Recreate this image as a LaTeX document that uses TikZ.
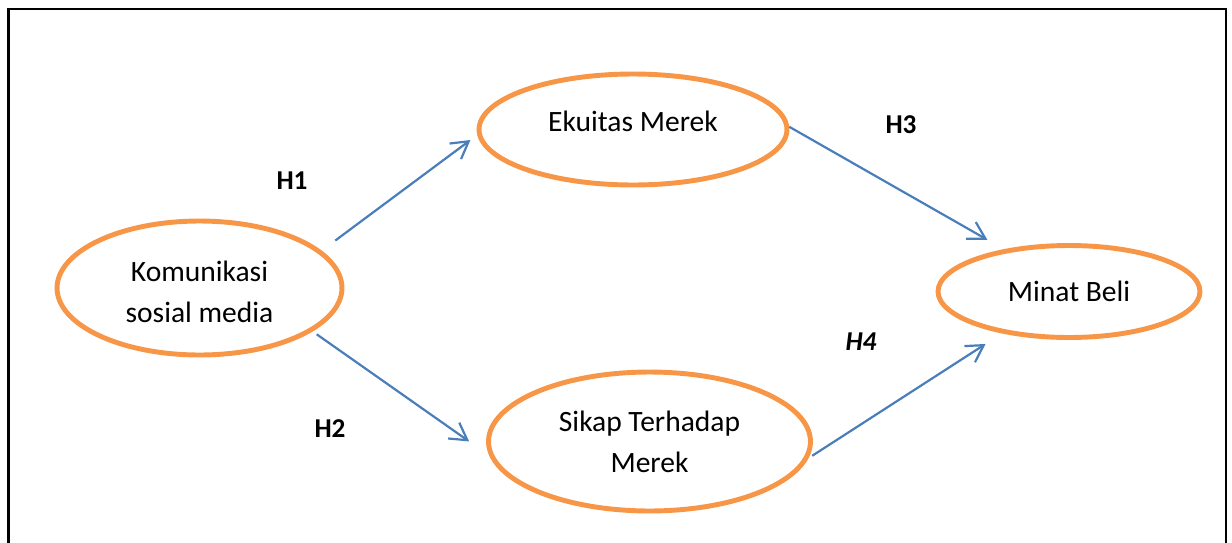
\documentclass[tikz,border=0pt]{standalone}
\usepackage{fontspec}
\setmainfont{Carlito}
\usetikzlibrary{arrows.meta,shapes.geometric}
\definecolor{varorange}{HTML}{F79646}
\definecolor{pathblue}{HTML}{4A7EBB}

\begin{document}
\begin{tikzpicture}[x=0.02cm,y=-0.02cm,>={Straight Barb[length=9.5pt,width=11pt]},
  var node/.style={ellipse,draw=varorange,line width=2.8pt,inner sep=0pt,align=center,
    font=\fontsize{16.8}{23.2}\selectfont},
  hyp/.style={->,draw=pathblue,line width=1.25pt},
  hyp label/.style={font=\fontsize{15.5}{18}\selectfont\bfseries}]

  \useasboundingbox (0,0) rectangle (1232,542);
  \clip (0,0) rectangle (1232,542);
  \draw[line width=1.2pt] (8.5,9) rectangle (1226,600);

  \node[var node,minimum width=5.7cm,minimum height=2.68cm,text height=39.5pt] (kom) at (199.5,288) {Komunikasi\\sosial media};
  \node[var node,minimum width=6.16cm,minimum height=2.22cm,text depth=9pt] (ekuitas) at (633,129.5) {Ekuitas Merek};
  \node[var node,minimum width=6.44cm,minimum height=2.78cm] (sikap) at (649.5,441.5) {Sikap Terhadap\\Merek};
  \node[var node,minimum width=5.24cm,minimum height=1.84cm] (minat) at (1069,291.5) {Minat Beli};

  \draw[hyp,shorten <=0.34cm,shorten >=0.17cm] (kom.17) -- (ekuitas.182.4);
  \draw[hyp,shorten <=0.1cm,shorten >=0.49cm] (kom.339.9) -- (sikap.185.3);
  \draw[hyp,shorten >=0.38cm] (ekuitas.1) -- (minat.147.6);
  \draw[hyp,shorten <=0.09cm,shorten >=0.39cm] (sikap.354.2) -- (minat.212.3);

  \node[hyp label] (h1) at (292,181) {H1};
  \node[hyp label] (h2) at (330,429) {H2};
  \node[hyp label] (h3) at (901,125) {H3};
  \node[hyp label] (h4) at (861,342) {\itshape H4};
\end{tikzpicture}
\end{document}
